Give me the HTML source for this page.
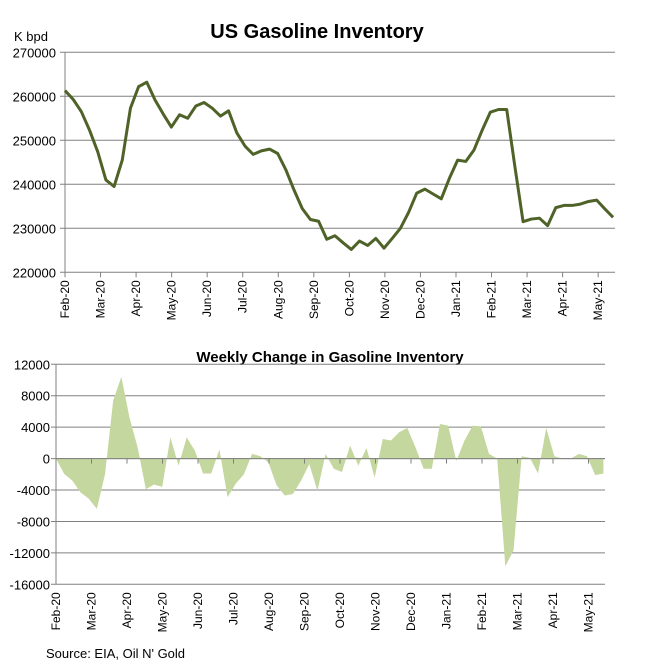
<!DOCTYPE html>
<html><head><meta charset="utf-8"><style>
body{margin:0;background:#fff;}
svg text{font-family:"Liberation Sans",Arial,sans-serif;}
</style></head><body>
<svg id="c" width="653" height="660" xmlns="http://www.w3.org/2000/svg">
<rect width="653" height="660" fill="#fff"/>
<text x="317" y="38" text-anchor="middle" font-size="20" font-weight="bold">US Gasoline Inventory</text>
<text x="14" y="41" font-size="13">K bpd</text>
<text x="330" y="362" text-anchor="middle" font-size="15" font-weight="bold">Weekly Change in Gasoline Inventory</text>
<text x="46" y="658" font-size="13">Source: EIA, Oil N' Gold</text>
</svg>
<script>
const months = ["Feb-20","Mar-20","Apr-20","May-20","Jun-20","Jul-20","Aug-20","Sep-20","Oct-20","Nov-20","Dec-20","Jan-21","Feb-21","Mar-21","Apr-21","May-21"];
const inventory = [261.3,259.3,256.5,252.3,247.4,241.0,239.5,245.5,257.3,262.2,263.2,259.2,256.0,253.0,255.8,255.0,257.8,258.6,257.3,255.5,256.7,251.7,248.7,246.8,247.6,248.0,247.0,243.3,238.7,234.5,232.0,231.6,227.5,228.3,226.7,225.2,227.1,226.1,227.7,225.5,227.7,230.0,233.6,238.0,238.9,237.8,236.7,241.4,245.5,245.2,247.8,252.3,256.4,257.0,257.0,244.0,231.5,232.1,232.3,230.6,234.7,235.2,235.2,235.5,236.1,236.4,234.4,232.5];
const weeklyChange = [0,-1950,-2800,-4300,-5100,-6400,-2000,7400,10400,5200,1400,-3900,-3300,-3600,2700,-900,2700,1000,-1900,-1900,1150,-4900,-3200,-2000,600,300,-500,-3400,-4700,-4500,-2800,-700,-4100,600,-1300,-1700,1650,-900,1350,-2400,2500,2300,3350,3900,1450,-1300,-1300,4400,4200,-300,2300,4200,4100,600,0,-13700,-11700,300,100,-1900,3900,300,0,0,600,300,-2100,-1900];
const topTicks = [270000,260000,250000,240000,230000,220000];
const bottomTicks = [12000,8000,4000,0,-4000,-8000,-12000,-16000];

const svg = document.getElementById('c');
const NS = 'http://www.w3.org/2000/svg';
function mk(tag, attrs){const e=document.createElementNS(NS,tag);for(const k in attrs)e.setAttribute(k,attrs[k]);svg.appendChild(e);return e;}
const WPM = 52.1429/12;

// Top chart
const T = {x0:65,x1:615,y0:52.3,y1:272.3,vmin:220,vmax:270,step:8.18};
const tx = i => T.x0 + i*T.step;
const ty = v => T.y1 - (v-T.vmin)/(T.vmax-T.vmin)*(T.y1-T.y0);
topTicks.forEach(t=>{
  const y = ty(t/1000);
  const g = mk('line',{x1:T.x0-5,x2:T.x1,y1:y,y2:y,stroke:'#808080','stroke-width':1});
  
  
  const l = mk('text',{x:56,y:y+5,'text-anchor':'end','font-size':13});
  l.textContent = t;
  
  
});
const ta = mk('line',{x1:T.x0,x2:T.x0,y1:T.y0,y2:T.y1,stroke:'#808080'});


months.forEach((m,k)=>{
  const x = tx(k*WPM);
  const tk = mk('line',{x1:x,x2:x,y1:T.y1,y2:T.y1+5,stroke:'#808080'});
  
  
  const l = mk('text',{x:0,y:0,'text-anchor':'end','font-size':12,transform:`translate(${x+4},${T.y1+8}) rotate(-90)`});
  l.textContent = m;
  
  
});
const line = mk('polyline',{points:inventory.map((v,i)=>tx(i)+','+ty(v)).join(' '),fill:'none',stroke:'#4f6228','stroke-width':3,'stroke-linejoin':'round'});



// Bottom chart
const B = {x0:56,x1:605,y0:364.3,y1:584.3,vmin:-16000,vmax:12000,step:8.17};
const bx = i => B.x0 + i*B.step;
const by = v => B.y1 - (v-B.vmin)/(B.vmax-B.vmin)*(B.y1-B.y0);
bottomTicks.forEach(t=>{
  const y = by(t);
  const g = mk('line',{x1:B.x0-5,x2:B.x1,y1:y,y2:y,stroke:'#808080','stroke-width':1});
  
  
  const l = mk('text',{x:50,y:y+5,'text-anchor':'end','font-size':13});
  l.textContent = t;
  
  
});
const pts = [bx(0)+','+by(0)].concat(weeklyChange.map((v,i)=>bx(i)+','+by(v))).concat([bx(weeklyChange.length-1)+','+by(0)]);
const area = mk('polygon',{points:pts.join(' '),fill:'#c4d79e'});


const z = mk('line',{x1:B.x0,x2:B.x1,y1:by(0),y2:by(0),stroke:'#808080'});


const ba = mk('line',{x1:B.x0,x2:B.x0,y1:B.y0,y2:B.y1,stroke:'#808080'});


months.forEach((m,k)=>{
  const x = bx(k*WPM);
  const tk = mk('line',{x1:x,x2:x,y1:by(0),y2:by(0)+5,stroke:'#808080'});
  
  
  const l = mk('text',{x:0,y:0,'text-anchor':'end','font-size':12,transform:`translate(${x+4},${B.y1+8}) rotate(-90)`});
  l.textContent = m;
  
  
});
</script>
</body></html>
